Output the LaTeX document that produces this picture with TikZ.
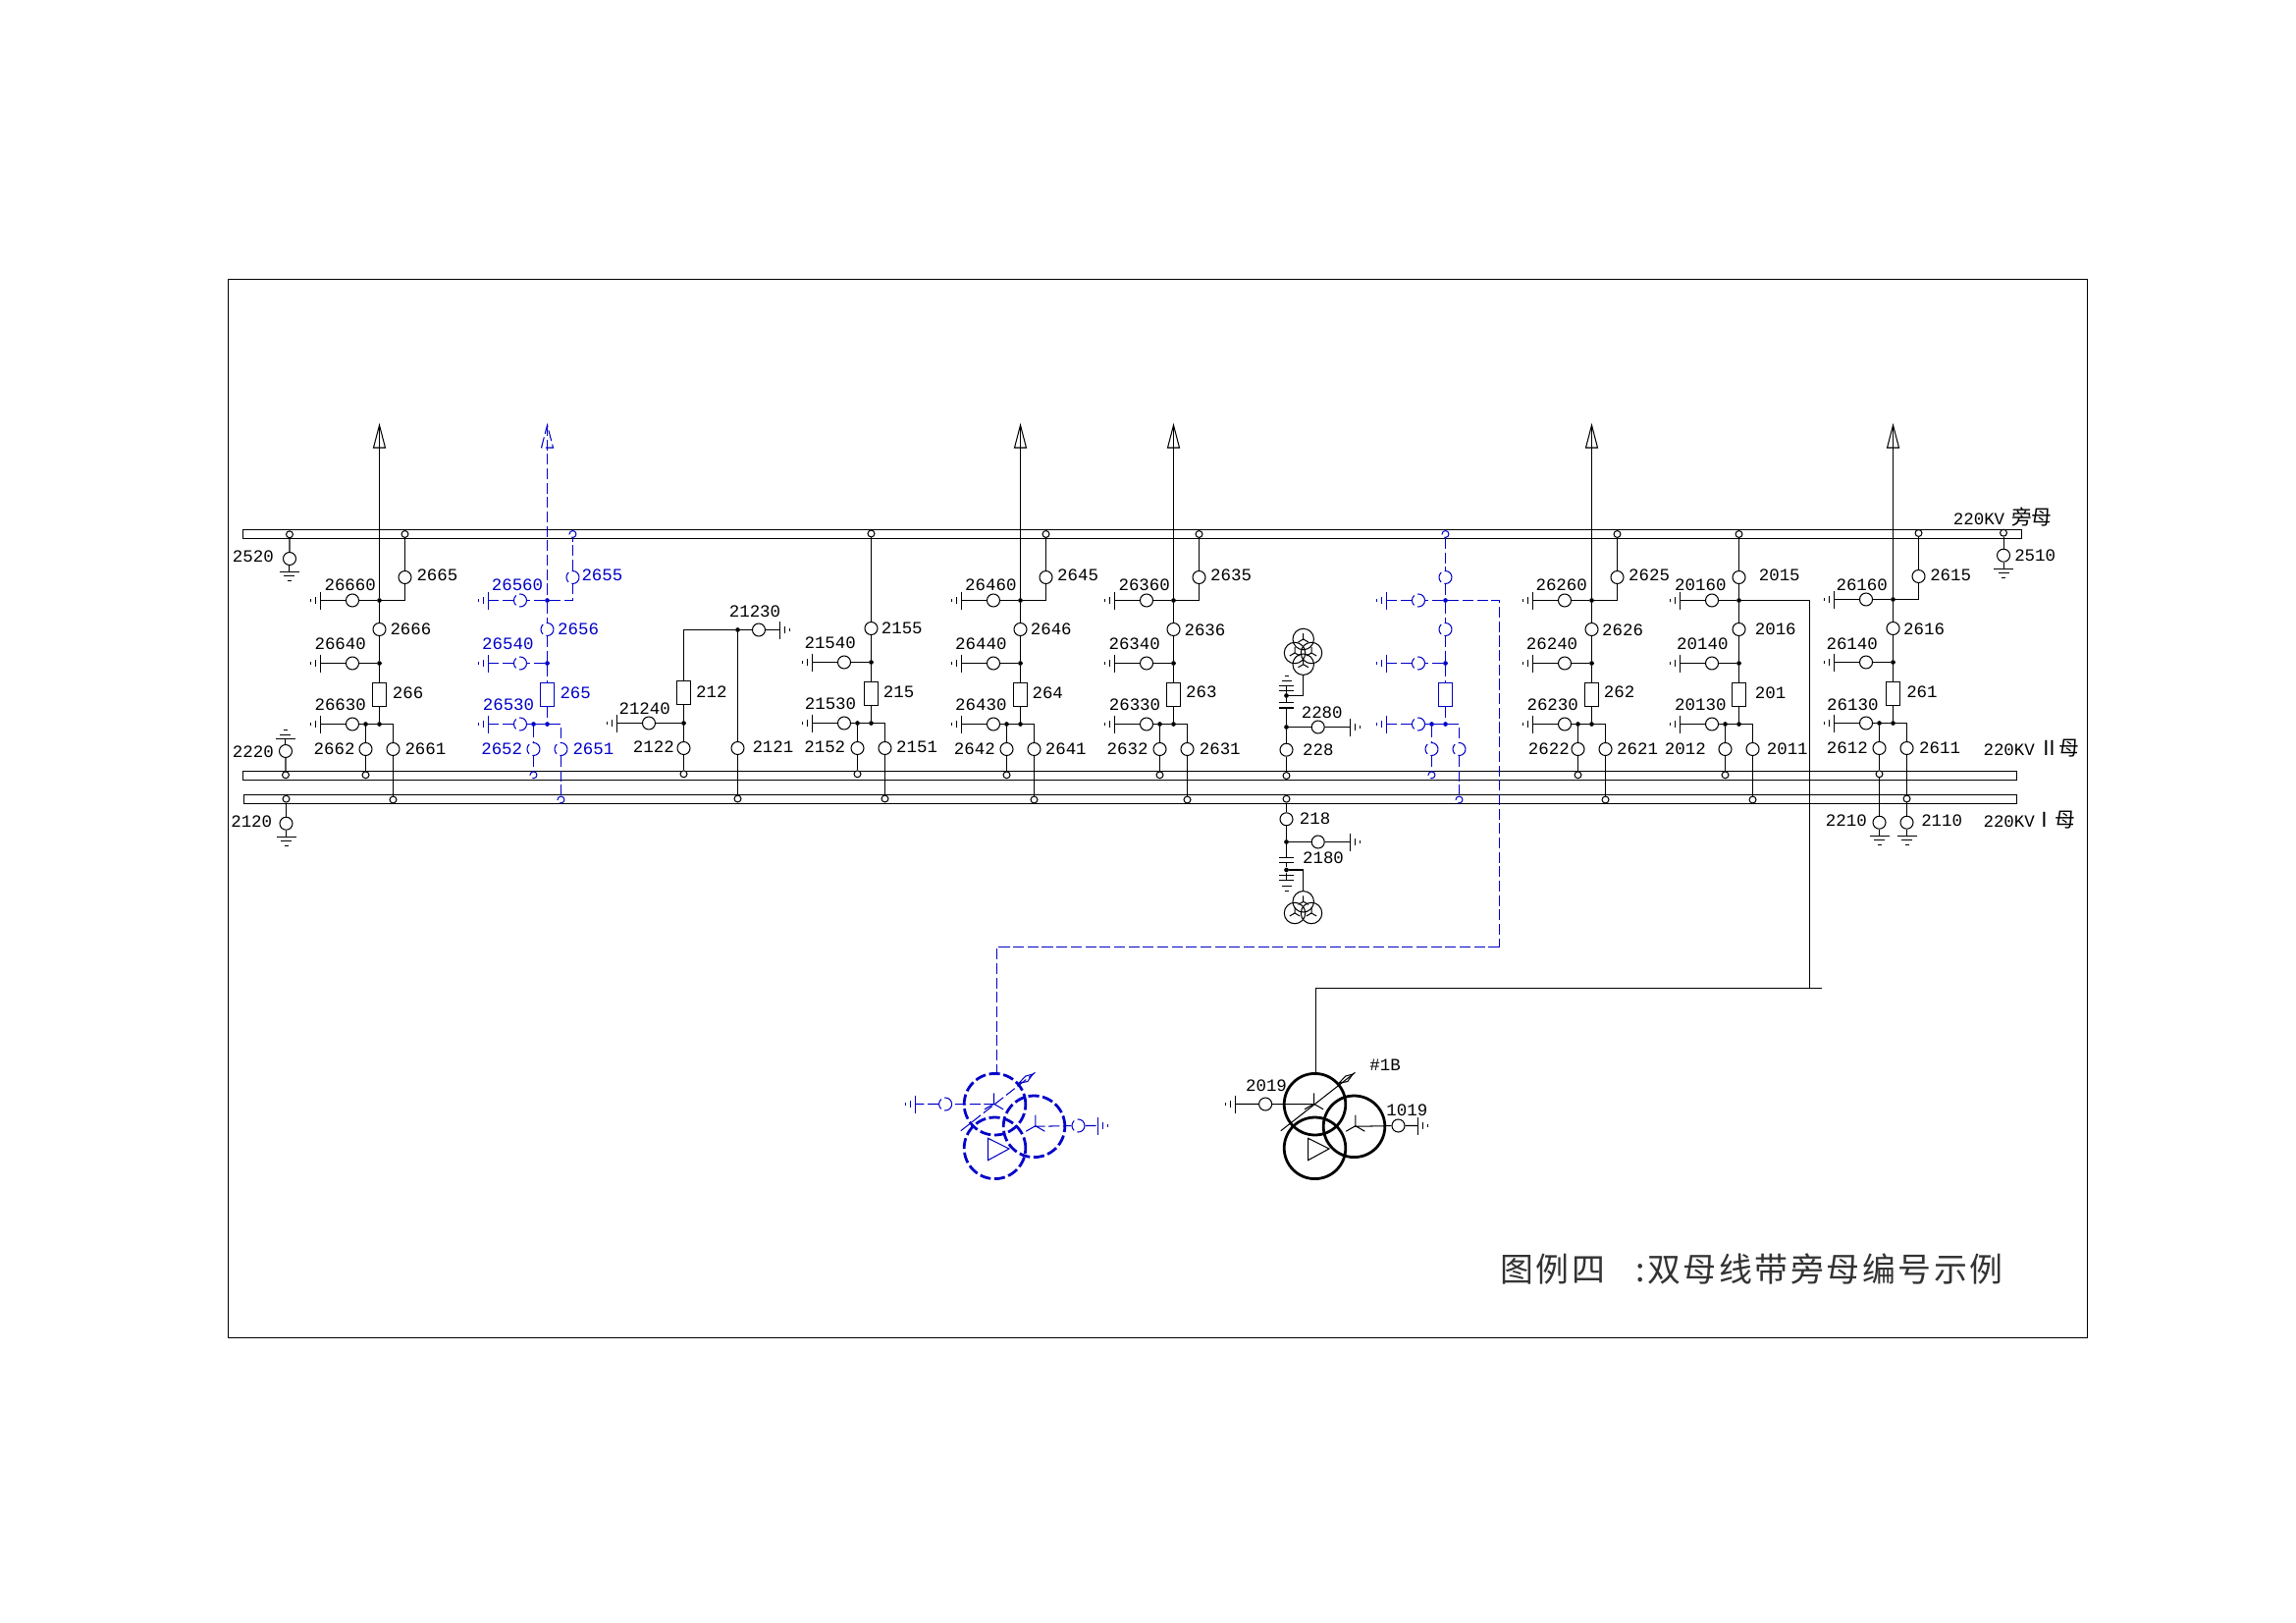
\documentclass[tikz,border=0pt]{standalone}
\usepackage{fontspec}
\newfontfamily\numfont{Liberation Mono}
\newfontfamily\cjkfont{Noto Sans CJK SC}
\newfontfamily\capfont[LetterSpace=7.5]{Noto Sans CJK SC}
\definecolor{feedblue}{RGB}{0,0,200}

\tikzset{
    main/.style={color=black},
    spare/.style={color=feedblue,dash pattern=on 8pt off 2.6pt},
    sw/.style={circle,draw,inner sep=0pt,minimum size=9.4pt},
    term/.style={circle,draw,fill=white,inner sep=0pt,minimum size=5pt},
    dot/.style={circle,fill,solid,inner sep=0pt,minimum size=3.4pt},
    brk/.style={rectangle,draw,solid,inner sep=0pt,minimum width=10.4pt,minimum height=17.6pt},
    busbar/.style={rectangle,draw,inner sep=0pt,minimum height=6.5pt},
    coil/.style={circle,draw,inner sep=0pt,line width=2pt,minimum size=45.2pt},
    pt/.style={circle,draw,inner sep=0pt,minimum size=15.5pt},
    num/.style={inner sep=0pt,font=\numfont\fontsize{12.6pt}{14pt}\selectfont},
    numl/.style={num,anchor=west},
    numr/.style={num,anchor=east},
    numb/.style={text=feedblue},
    captext/.style={anchor=west,inner sep=0pt,text=black!80,font=\capfont\fontsize{24.5pt}{28pt}\selectfont},
}

% bars of an earth on a horizontal or a vertical lead
\newcommand{\gndh}[5]{
    \coordinate (#1) at (#2,#3);
    \draw[#4,solid] (#2,#3-9) -- (#2,#3+9) (#2+5*#5,#3-3.5) -- (#2+5*#5,#3+3.5) (#2+10*#5,#3-1.5) -- (#2+10*#5,#3+1.5);
}
\newcommand{\gndv}[5]{
    \coordinate (#1) at (#2,#3);
    \draw[#4,solid] (#2-10,#3) -- (#2+10,#3) (#2-5.5,#3+4.4*#5) -- (#2+5.5,#3+4.4*#5) (#2-2,#3+9*#5) -- (#2+2,#3+9*#5);
}
\newcommand{\wye}[4]{
    \draw[#4,solid] (#1,#2-#3) -- (#1,#2) -- (#1+0.87*#3,#2+0.5*#3) (#1,#2) -- (#1-0.87*#3,#2+0.5*#3);
}
% lower part of a bay: name, x, style, y shift
\newcommand{\baylow}[4]{
    \node[#3,sw] (#1u) at (#2,641+#4) {};
    \node[#3,dot] (#1m) at (#2,675.5+#4) {};
    \node[#3,brk] (#1b) at (#2,707.3+#4) {};
    \node[#3,dot] (#1n) at (#2,737.5+#4) {};
    \node[#3,dot] (#1k) at (#2-14,737.5+#4) {};
    \coordinate (#1r) at (#2+14,737.5+#4);
    \node[#3,sw] (#1em) at (#2-27.5,675.5+#4) {};
    \node[#3,sw] (#1en) at (#2-27.5,737.5+#4) {};
    \node[#3,sw] (#1p) at (#2-14,763+#4) {};
    \node[#3,sw] (#1q) at (#2+14,763+#4) {};
    \node[#3,term] (#1x) at (#2-14,789.3+#4) {};
    \node[#3,term] (#1y) at (#2+14,814.5+#4) {};
    \gndh{#1gm}{#2-60}{675.5+#4}{#3}{-1}
    \gndh{#1gn}{#2-60}{737.5+#4}{#3}{-1}
    \draw[#3] (#1u) -- (#1m) -- (#1b) -- (#1n) -- (#1k) -- (#1en) -- (#1gn);
    \draw[#3] (#1m) -- (#1em) -- (#1gm);
    \draw[#3] (#1n) -- (#1r) -- (#1q) -- (#1y);
    \draw[#3] (#1k) -- (#1p) -- (#1x);
}
% feeder with arrow and a branch to the bypass bar
\newcommand{\bayfeed}[4]{
    \coordinate (#1tip) at (#2,433);
    \node[#3,dot] (#1t) at (#2,611.5+#4) {};
    \node[#3,sw] (#1et) at (#2-27.5,611.5+#4) {};
    \node[#3,sw] (#1s) at (#2+26,588+#4) {};
    \node[#3,term] (#1w) at (#2+26,544+#4) {};
    \gndh{#1gt}{#2-60}{611.5+#4}{#3}{-1}
    \draw[#3] (#2-6,456) -- (#1tip) -- (#2+6,456) -- cycle;
    \draw[#3] (#1tip) -- (#1t) -- (#1u);
    \draw[#3] (#1t) -| (#1s);
    \draw[#3] (#1s) -- (#1w);
    \draw[#3] (#1t) -- (#1et) -- (#1gt);
}
% no feeder, switch in line to the bypass bar
\newcommand{\bayin}[4]{
    \node[#3,dot] (#1t) at (#2,611.5+#4) {};
    \node[#3,sw] (#1et) at (#2-27.5,611.5+#4) {};
    \node[#3,sw] (#1s) at (#2,588+#4) {};
    \node[#3,term] (#1w) at (#2,544+#4) {};
    \gndh{#1gt}{#2-60}{611.5+#4}{#3}{-1}
    \draw[#3] (#1w) -- (#1s) -- (#1t) -- (#1u);
    \draw[#3] (#1t) -- (#1et) -- (#1gt);
}
% three winding transformer: name, x of the upper coil, style
\newcommand{\trafo}[3]{
    \node[#3,coil] (#1t) at (#2,1124.7) {};
    \node[#3,coil] (#1r) at (#2+40,1147.3) {};
    \node[#3,coil] (#1b) at (#2,1169.3) {};
    \node[#3,sw] (#1sl) at (#2-50.4,1124.5) {};
    \node[#3,sw] (#1sr) at (#2+85,1146.5) {};
    \gndh{#1gl}{#2-81.4}{1124.5}{#3}{-1}
    \gndh{#1gr}{#2+104.6}{1146.5}{#3}{1}
    \draw[#3] (#1t.center) -- (#1sl) -- (#1gl);
    \draw[#3] (#1r.center) -- (#1sr) -- (#1gr);
    \wye{#2-1}{1124.3}{11}{#3}
    \wye{#2+41.3}{1146.7}{11}{#3}
    \draw[#3,solid] (#2-7,1159.3) -- (#2-7,1181.7) -- (#2+14.5,1170) -- cycle;
    \draw[#3] (#2-34.7,1151.7) -- (#2+41,1092.3);
    \draw[#3,solid] (#2+24.3,1103.3) -- (#2+31.3,1096) -- (#2+38.6,1094) -- (#2+33.3,1101.5) -- cycle;
}

\begin{document}
\begin{tikzpicture}[x=0.01in,y=-0.01in,line width=0.75pt]
    \useasboundingbox (0,0) rectangle (2339,1653);
    \draw[line width=0.9pt] (232.5,284.5) rectangle (2126.5,1362.5);

    % bus bars
    \node[busbar,minimum width=1308.8pt] (barp) at (1153.5,544) {};
    \node[busbar,minimum width=1305pt] (bartwo) at (1151.1,790) {};
    \node[busbar,minimum width=1304.3pt] (barone) at (1151.6,814) {};

    % bays
    \baylow{a}{386.5}{main}{0}
    \bayfeed{a}{386.5}{main}{0}
    \baylow{b}{557.5}{spare}{0}
    \bayfeed{b}{557.5}{spare}{0}
    \baylow{d}{887.5}{main}{-1}
    \node[term] (dw) at (887.5,543.5) {};
    \draw (dw) -- (du);
    \baylow{e}{1039.5}{main}{0}
    \bayfeed{e}{1039.5}{main}{0}
    \baylow{f}{1195.5}{main}{0}
    \bayfeed{f}{1195.5}{main}{0}
    \baylow{g}{1472.5}{spare}{0}
    \bayin{g}{1472.5}{spare}{0}
    \baylow{h}{1621.5}{main}{0}
    \bayfeed{h}{1621.5}{main}{0}
    \baylow{k}{1771.5}{main}{0}
    \bayin{k}{1771.5}{main}{0}
    \baylow{m}{1928.5}{main}{-1}
    \bayfeed{m}{1928.5}{main}{-1}

    % bus coupler
    \node[brk] (cb) at (696.5,705.5) {};
    \node[dot] (cn) at (696.5,736.5) {};
    \node[sw] (cen) at (661,736.5) {};
    \node[sw] (cp) at (696.5,762) {};
    \node[term] (cx) at (696.5,788.3) {};
    \coordinate (cc) at (696.5,641.5);
    \node[dot] (ct) at (751.5,641.5) {};
    \node[sw] (cet) at (773,641.5) {};
    \node[sw] (cq) at (751.5,762) {};
    \node[term] (cy) at (751.5,813.5) {};
    \gndh{cgn}{628.5}{736.5}{main}{-1}
    \gndh{cgt}{794.5}{641.5}{main}{1}
    \draw (cb) -- (cc) -- (ct) -- (cet) -- (cgt);
    \draw (ct) -- (cq) -- (cy);
    \draw (cb) -- (cn) -- (cp) -- (cx);
    \draw (cn) -- (cen) -- (cgn);

    % bus earths
    \node[term] (e2520t) at (295,544.3) {};
    \node[sw] (e2520) at (295,569) {};
    \gndv{e2520g}{294.5}{582.5}{main}{1}
    \draw (e2520t) -- (e2520) -- (e2520g);
    \node[term] (e2220t) at (291,789.3) {};
    \node[sw] (e2220) at (291,765) {};
    \gndv{e2220g}{290.5}{752.5}{main}{-1}
    \draw (e2220t) -- (e2220) -- (e2220g);
    \node[term] (e2120t) at (291.5,813.7) {};
    \node[sw] (e2120) at (291.5,838.7) {};
    \gndv{e2120g}{291.5}{852.5}{main}{1}
    \draw (e2120t) -- (e2120) -- (e2120g);
    \node[term] (e2510t) at (2041,542.7) {};
    \node[sw] (e2510) at (2041,565.7) {};
    \gndv{e2510g}{2041}{579.5}{main}{1}
    \draw (e2510t) -- (e2510) -- (e2510g);
    \node[sw] (e2210) at (1914.5,837.7) {};
    \gndv{e2210g}{1914.5}{851.5}{main}{1}
    \draw (mx) -- (e2210) -- (e2210g);
    \node[sw] (e2110) at (1942.5,837.7) {};
    \gndv{e2110g}{1942.5}{851.5}{main}{1}
    \draw (my) -- (e2110) -- (e2110g);

    % voltage transformers
    \node[sw] (v228) at (1310.5,763.7) {};
    \node[term] (v228t) at (1310.5,790) {};
    \node[dot] (v228d) at (1310.5,740.5) {};
    \node[sw] (v2280) at (1342.7,740.5) {};
    \node[dot] (v228c) at (1310.5,708.5) {};
    \gndh{v228g}{1375.5}{740.5}{main}{1}
    \coordinate (v228a) at (1310.5,721);
    \coordinate (v228e) at (1310.5,698.5);
    \coordinate (v228f) at (1327.5,686.7);
    \draw (v228t) -- (v228) -- (v228d) -- (v228a);
    \draw (v228d) -- (v2280) -- (v228g);
    \draw (1303,721) -- (1318,721) (1303,715.5) -- (1318,715.5);
    \draw (1310.5,715.5) -- (v228c) -- (v228e);
    \draw (v228c) -| (v228f);
    \draw (1303,703.5) -- (1318,703.5) (1303,698.5) -- (1318,698.5) (1305.7,693.5) -- (1315.7,693.5) (1308.7,688.5) -- (1312.7,688.5);
    \node[pt] (vpa) at (1327.7,651) {};
    \node[pt] (vpb) at (1319,665) {};
    \node[pt] (vpc) at (1336,665) {};
    \node[pt] (vpd) at (1327.7,676.7) {};
    \wye{1327.7}{651}{6}{main}
    \wye{1319}{665}{6}{main}
    \wye{1336}{665}{6}{main}
    \wye{1327.7}{676.7}{6}{main}

    \node[term] (v218t) at (1310.5,813.7) {};
    \node[sw] (v218) at (1310.5,834.3) {};
    \node[dot] (v218d) at (1310.5,857.5) {};
    \node[sw] (v2180) at (1342.7,857.5) {};
    \node[dot] (v218c) at (1310.5,886) {};
    \gndh{v218g}{1375.5}{857.5}{main}{1}
    \coordinate (v218a) at (1310.5,873.5);
    \coordinate (v218e) at (1310.5,896.5);
    \coordinate (v218f) at (1327.5,907.7);
    \draw (v218t) -- (v218) -- (v218d) -- (v218a);
    \draw (v218d) -- (v2180) -- (v218g);
    \draw (1303,873.5) -- (1318,873.5) (1303,878.5) -- (1318,878.5);
    \draw (1310.5,878.5) -- (v218c) -- (v218e);
    \draw (v218c) -| (v218f);
    \draw (1303,891.5) -- (1318,891.5) (1303,896.5) -- (1318,896.5) (1305.7,902.5) -- (1315.7,902.5) (1308.7,907.5) -- (1312.7,907.5);
    \node[pt] (wpa) at (1327.7,918.3) {};
    \node[pt] (wpb) at (1319,930) {};
    \node[pt] (wpc) at (1336,930) {};
    \wye{1327.7}{918.3}{6}{main}
    \wye{1319}{930}{6}{main}
    \wye{1336}{930}{6}{main}

    % transformers and their leads
    \trafo{T}{1339.5}{main}
    \trafo{U}{1013.5}{spare}
    \coordinate (hva) at (1843.5,1006.5);
    \coordinate (hvb) at (1856,1006.5);
    \coordinate (hvc) at (1340.5,1006.5);
    \draw (kt) -| (hva);
    \draw (hvb) -- (hvc) -- (hvc |- Tt.north);
    \coordinate (sba) at (1527.5,964.5);
    \coordinate (sbb) at (1015.5,964.5);
    \draw[spare] (gt) -| (sba);
    \draw[spare] (sba) -- (sbb) -- (sbb |- Ut.north);

    % numbers
    \node[num] (l26660) at (356.7,595.7) {26660};
    \node[numl] (l2665) at (424,585.7) {2665};
    \node[numl] (l2666) at (397,641) {2666};
    \node[num] (l26640) at (346.7,655.7) {26640};
    \node[numl] (l266) at (399.3,705.7) {266};
    \node[num] (l26630) at (346.7,717.3) {26630};
    \node[numr] (l2662) at (362,762.7) {2662};
    \node[numl] (l2661) at (412,762.7) {2661};

    \node[num,numb] (l26560) at (527,595.7) {26560};
    \node[numl,numb] (l2655) at (592,585.7) {2655};
    \node[numl,numb] (l2656) at (567.7,641) {2656};
    \node[num,numb] (l26540) at (517.3,655.7) {26540};
    \node[numl,numb] (l265) at (570,705.7) {265};
    \node[num,numb] (l26530) at (518,717.3) {26530};
    \node[numr,numb] (l2652) at (532.7,762.7) {2652};
    \node[numl,numb] (l2651) at (583,762.7) {2651};

    \node[num] (l21230) at (769,623) {21230};
    \node[numl] (l212) at (708.7,704.3) {212};
    \node[num] (l21240) at (656.7,721.7) {21240};
    \node[numr] (l2122) at (687.3,761) {2122};
    \node[numl] (l2121) at (766,761) {2121};

    \node[numl] (l2155) at (897.3,640) {2155};
    \node[num] (l21540) at (845.7,654.3) {21540};
    \node[numl] (l215) at (899.3,704.3) {215};
    \node[num] (l21530) at (846,716.7) {21530};
    \node[numr] (l2152) at (861.7,761) {2152};
    \node[numl] (l2151) at (912.7,761) {2151};

    \node[num] (l26460) at (1009.3,595.7) {26460};
    \node[numl] (l2645) at (1076.7,585.7) {2645};
    \node[numl] (l2646) at (1049.3,641) {2646};
    \node[num] (l26440) at (999.3,655.3) {26440};
    \node[numl] (l264) at (1051,705.7) {264};
    \node[num] (l26430) at (999.3,717.3) {26430};
    \node[numr] (l2642) at (1014.3,762.7) {2642};
    \node[numl] (l2641) at (1064.3,762.7) {2641};

    \node[num] (l26360) at (1165.7,595.7) {26360};
    \node[numl] (l2635) at (1232.7,585.7) {2635};
    \node[numl] (l2636) at (1206,641.3) {2636};
    \node[num] (l26340) at (1155.7,655.7) {26340};
    \node[numl] (l263) at (1207.7,705) {263};
    \node[num] (l26330) at (1156,717.7) {26330};
    \node[numr] (l2632) at (1170,762.3) {2632};
    \node[numl] (l2631) at (1221.3,762.3) {2631};

    \node[num] (l2280) at (1346.7,725.7) {2280};
    \node[numl] (l228) at (1326.7,764) {228};
    \node[numl] (l218) at (1323.3,833.3) {218};
    \node[num] (l2180) at (1348,873.3) {2180};

    \node[num] (l26260) at (1590.7,595.7) {26260};
    \node[numl] (l2625) at (1658.7,585.7) {2625};
    \node[numl] (l2626) at (1631.7,641.3) {2626};
    \node[num] (l26240) at (1581,655.7) {26240};
    \node[numl] (l262) at (1633.3,705) {262};
    \node[num] (l26230) at (1581.7,717.7) {26230};
    \node[numr] (l2622) at (1599.3,762.3) {2622};
    \node[numl] (l2621) at (1646.7,762.3) {2621};

    \node[num] (l20160) at (1732.3,595.7) {20160};
    \node[numl] (l2015) at (1791.3,586) {2015};
    \node[numl] (l2016) at (1787.3,640.7) {2016};
    \node[num] (l20140) at (1734.3,655.3) {20140};
    \node[numl] (l201) at (1787.3,705.3) {201};
    \node[num] (l20130) at (1732.3,717.3) {20130};
    \node[numr] (l2012) at (1738.3,762.7) {2012};
    \node[numl] (l2011) at (1799.3,762.7) {2011};

    \node[num] (l26160) at (1896.7,595.3) {26160};
    \node[numl] (l2615) at (1965.7,585.7) {2615};
    \node[numl] (l2616) at (1938.7,640.7) {2616};
    \node[num] (l26140) at (1886.7,655.3) {26140};
    \node[numl] (l261) at (1941.7,705) {261};
    \node[num] (l26130) at (1887.3,717.3) {26130};
    \node[numr] (l2612) at (1903.3,761.7) {2612};
    \node[numl] (l2611) at (1954.7,761.7) {2611};

    \node[numr] (l2520) at (279.3,566.7) {2520};
    \node[numr] (l2220) at (279.3,766) {2220};
    \node[numr] (l2120) at (277.7,836.7) {2120};
    \node[numl] (l2510) at (2051.7,566) {2510};
    \node[numr] (l2210) at (1902.3,835.3) {2210};
    \node[numl] (l2110) at (1956.7,836) {2110};

    \node[num] (l2019) at (1290,1106) {2019};
    \node[num] (l1019) at (1433.3,1130.7) {1019};
    \node[num] (l1B) at (1411,1084.7) {\#1B};

    % bus names
    \node[numl] (nbarp) at (1989.3,527) {220KV\hspace{5pt}{\cjkfont\fontsize{15pt}{16pt}\selectfont 旁母}};
    \node[numl] (nbartwo) at (2020,762) {220KV\hspace{3pt}{\cjkfont\fontsize{15pt}{16pt}\selectfont Ⅱ母}};
    \node[numl] (nbarone) at (2020,835) {220KV{\cjkfont\fontsize{15pt}{16pt}\selectfont Ⅰ母}};

    \node[captext] (capa) at (1528,1292.5) {图例四};
    \node[captext] (capb) at (1666,1292.5) {:双母线带旁母编号示例};
\end{tikzpicture}
\end{document}
